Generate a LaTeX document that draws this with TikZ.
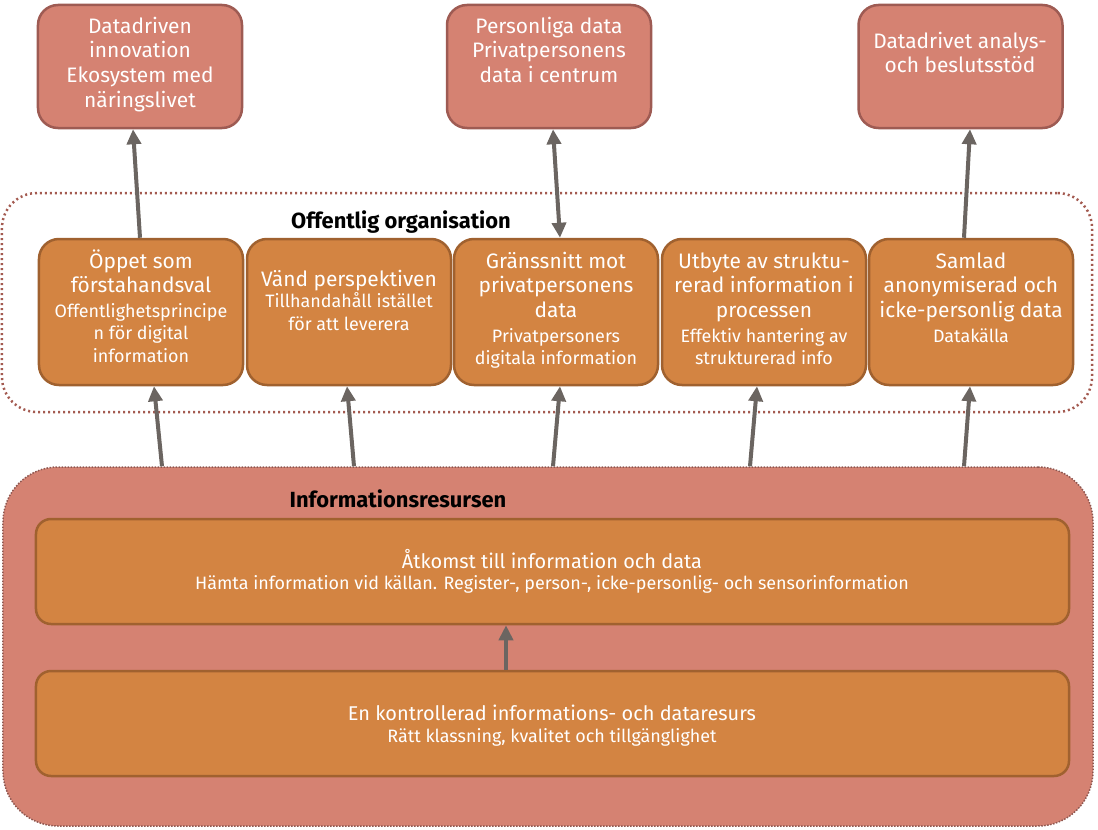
\documentclass[tikz,border=0pt]{standalone}
\usepackage{fontspec}
\setmainfont{Fira Sans}
\usetikzlibrary{arrows.meta}
\definecolor{salmon}{HTML}{D58272}
\definecolor{salmonline}{HTML}{9E5B53}
\definecolor{orng}{HTML}{D38442}
\definecolor{orngline}{HTML}{A0612F}
\definecolor{arrowgray}{HTML}{6B6561}
\definecolor{dotline}{HTML}{A35A50}
\definecolor{infoline}{HTML}{8E5750}
\newcommand\HeadT{\fontsize{21}{25}\selectfont}
\newcommand\WideT{\fontsize{20}{25}\selectfont}
\newcommand\SubT{\fontsize{18}{22}\selectfont}
\newcommand\tb[1]{\begin{tabular}[t]{@{}c@{}}#1\end{tabular}}
\begin{document}
\begin{tikzpicture}[x=1bp,y=-1bp,
  topbox/.style={draw=salmonline, fill=salmon, line width=2.5bp, rounded corners=20bp, minimum width=204bp, minimum height=123bp, inner sep=0},
  midbox/.style={draw=orngline, fill=orng, line width=2.5bp, rounded corners=20bp, minimum width=204bp, minimum height=146bp, inner sep=0},
  widebox/.style={draw=orngline, fill=orng, line width=2.5bp, rounded corners=15bp, minimum width=1033bp, minimum height=105bp, inner sep=0},
  txt/.style={text=white, font=\HeadT, anchor=base, inner sep=0},
  wtxt/.style={text=white, font=\WideT, anchor=base, inner sep=0},
  lbl/.style={font=\fontsize{22}{24}\selectfont\bfseries, anchor=base, inner sep=0},
  arr/.style={draw=arrowgray, line width=4bp, -{Triangle[length=15bp,width=14bp]}},
  arrb/.style={draw=arrowgray, line width=4bp, {Triangle[length=15bp,width=14bp]}-{Triangle[length=15bp,width=14bp]}},
]
\useasboundingbox (0,0) rectangle (1098,830);
% containers
\node[draw=dotline, line width=2.5bp, dash pattern=on 2bp off 3bp, rounded corners=35bp, minimum width=1090bp, minimum height=219bp, inner sep=0] (org) at (547,302.5) {};
\node[draw=infoline, fill=salmon, line width=1.5bp, dash pattern=on 1.5bp off 1.5bp, rounded corners=55bp, minimum width=1090bp, minimum height=359bp, inner sep=0] (info) at (548,646.5) {};
% top boxes
\node[topbox] (a) at (140,66.5) {};
\node[topbox] (b) at (549,66.5) {};
\node[topbox] (c) at (960.5,66.5) {};
% middle boxes
\node[midbox] (m1) at (141,312) {};
\node[midbox] (m2) at (349,312) {};
\node[midbox] (m3) at (556,312) {};
\node[midbox] (m4) at (764,312) {};
\node[midbox] (m5) at (971,312) {};
% inner wide boxes
\node[widebox] (w1) at (552.5,571.5) {};
\node[widebox] (w2) at (552.5,723.5) {};
% arrows
\draw[arr] ([xshift=-1bp]m1.north) -- ([xshift=-7bp]a.south);
\draw[arrb] ([xshift=4bp]m3.north) -- ([xshift=4bp]b.south);
\draw[arr] ([xshift=-7bp]m5.north) -- ([xshift=9.5bp]c.south);
\draw[arr] ([xshift=-386bp]info.north) -- ([xshift=13bp]m1.south);
\draw[arr] ([xshift=-194bp]info.north) -- ([xshift=-2bp]m2.south);
\draw[arr] ([xshift=5bp]info.north) -- ([xshift=4bp]m3.south);
\draw[arr] ([xshift=202bp]info.north) -- ([xshift=-7bp]m4.south);
\draw[arr] ([xshift=416bp]info.north) -- ([xshift=-1bp]m5.south);
\draw[arr] ([xshift=-46.5bp]w2.north) -- ([xshift=-46.5bp]w1.south);
% labels
\node[lbl] (lorg) at (401,228) {Offentlig organisation};
\node[lbl] (linfo) at (398,507) {Informationsresursen};
% texts
\node[txt] (ta) at (140,33) {\tb{Datadriven\\innovation\\Ekosystem med\\näringslivet}};
\node[txt] (tb) at (549,33) {\tb{Personliga data\\Privatpersonens\\data i centrum}};
\node[txt] (tc) at (960,48) {\tb{Datadrivet analys-\\och beslutsstöd}};
\node[txt] (t1) at (141,268) {\tb{Öppet som\\förstahandsval\\\SubT Offentlighetsprincipe\\[-3bp]\SubT n för digital\\[-2bp]\SubT information}};
\node[txt] (t2) at (349,286) {\tb{Vänd perspektiven\\[-3bp]\SubT Tillhandahåll istället\\[-2bp]\SubT för att leverera}};
\node[txt] (t3) at (556,268) {\tb{Gränssnitt mot\\privatpersonens\\data\\\SubT Privatpersoners\\[-3bp]\SubT digitala information}};
\node[txt] (t4) at (764,268) {\tb{Utbyte av struktu-\\rerad information i\\processen\\\SubT Effektiv hantering av\\[-3bp]\SubT strukturerad info}};
\node[txt] (t5) at (971,268) {\tb{Samlad\\anonymiserad och\\icke-personlig data\\\SubT Datakälla}};
\node[wtxt] (tw1) at (552,568) {\tb{Åtkomst till information och data\\[-3bp]\SubT Hämta information vid källan. Register-, person-, icke-personlig- och sensorinformation}};
\node[wtxt] (tw2) at (552,720) {\tb{En kontrollerad informations- och dataresurs\\[-2bp]\SubT Rätt klassning, kvalitet och tillgänglighet}};
\end{tikzpicture}
\end{document}
